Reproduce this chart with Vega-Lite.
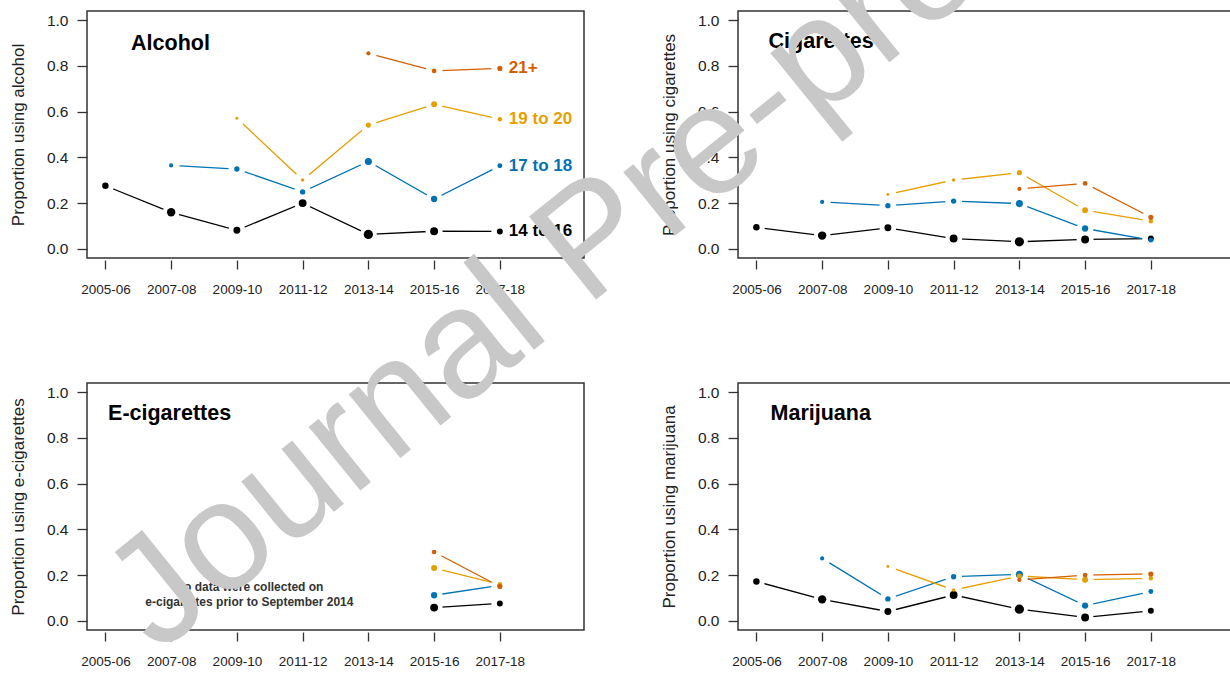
{
  "$schema": "https://vega.github.io/schema/vega-lite/v6.json",
  "autosize": {"type": "none"},
  "padding": {"left": 87, "top": 11, "right": 1143, "bottom": 664},
  "background": "white",
  "datasets": {
    "use": [
      {"s": "Alcohol", "g": "14 to 16", "year": 2005, "v": 0.276, "n": 190},
      {"s": "Alcohol", "g": "14 to 16", "year": 2007, "v": 0.160, "n": 320},
      {"s": "Alcohol", "g": "14 to 16", "year": 2009, "v": 0.081, "n": 220},
      {"s": "Alcohol", "g": "14 to 16", "year": 2011, "v": 0.200, "n": 285},
      {"s": "Alcohol", "g": "14 to 16", "year": 2013, "v": 0.063, "n": 390},
      {"s": "Alcohol", "g": "14 to 16", "year": 2015, "v": 0.077, "n": 285},
      {"s": "Alcohol", "g": "14 to 16", "year": 2017, "v": 0.076, "n": 160},
      {"s": "Alcohol", "g": "17 to 18", "year": 2007, "v": 0.365, "n": 80},
      {"s": "Alcohol", "g": "17 to 18", "year": 2009, "v": 0.349, "n": 130},
      {"s": "Alcohol", "g": "17 to 18", "year": 2011, "v": 0.249, "n": 130},
      {"s": "Alcohol", "g": "17 to 18", "year": 2013, "v": 0.382, "n": 230},
      {"s": "Alcohol", "g": "17 to 18", "year": 2015, "v": 0.218, "n": 180},
      {"s": "Alcohol", "g": "17 to 18", "year": 2017, "v": 0.363, "n": 110},
      {"s": "Alcohol", "g": "19 to 20", "year": 2009, "v": 0.571, "n": 40},
      {"s": "Alcohol", "g": "19 to 20", "year": 2011, "v": 0.301, "n": 55},
      {"s": "Alcohol", "g": "19 to 20", "year": 2013, "v": 0.541, "n": 120},
      {"s": "Alcohol", "g": "19 to 20", "year": 2015, "v": 0.632, "n": 165},
      {"s": "Alcohol", "g": "19 to 20", "year": 2017, "v": 0.567, "n": 90},
      {"s": "Alcohol", "g": "21+", "year": 2013, "v": 0.855, "n": 80},
      {"s": "Alcohol", "g": "21+", "year": 2015, "v": 0.778, "n": 100},
      {"s": "Alcohol", "g": "21+", "year": 2017, "v": 0.789, "n": 120},

      {"s": "Cigarettes", "g": "14 to 16", "year": 2005, "v": 0.094, "n": 190},
      {"s": "Cigarettes", "g": "14 to 16", "year": 2007, "v": 0.058, "n": 320},
      {"s": "Cigarettes", "g": "14 to 16", "year": 2009, "v": 0.092, "n": 220},
      {"s": "Cigarettes", "g": "14 to 16", "year": 2011, "v": 0.045, "n": 285},
      {"s": "Cigarettes", "g": "14 to 16", "year": 2013, "v": 0.031, "n": 390},
      {"s": "Cigarettes", "g": "14 to 16", "year": 2015, "v": 0.041, "n": 285},
      {"s": "Cigarettes", "g": "14 to 16", "year": 2017, "v": 0.045, "n": 160},
      {"s": "Cigarettes", "g": "17 to 18", "year": 2007, "v": 0.205, "n": 80},
      {"s": "Cigarettes", "g": "17 to 18", "year": 2009, "v": 0.189, "n": 130},
      {"s": "Cigarettes", "g": "17 to 18", "year": 2011, "v": 0.209, "n": 130},
      {"s": "Cigarettes", "g": "17 to 18", "year": 2013, "v": 0.198, "n": 230},
      {"s": "Cigarettes", "g": "17 to 18", "year": 2015, "v": 0.089, "n": 180},
      {"s": "Cigarettes", "g": "17 to 18", "year": 2017, "v": 0.038, "n": 110},
      {"s": "Cigarettes", "g": "19 to 20", "year": 2009, "v": 0.238, "n": 40},
      {"s": "Cigarettes", "g": "19 to 20", "year": 2011, "v": 0.301, "n": 55},
      {"s": "Cigarettes", "g": "19 to 20", "year": 2013, "v": 0.333, "n": 120},
      {"s": "Cigarettes", "g": "19 to 20", "year": 2015, "v": 0.169, "n": 165},
      {"s": "Cigarettes", "g": "19 to 20", "year": 2017, "v": 0.121, "n": 90},
      {"s": "Cigarettes", "g": "21+", "year": 2013, "v": 0.262, "n": 80},
      {"s": "Cigarettes", "g": "21+", "year": 2015, "v": 0.286, "n": 100},
      {"s": "Cigarettes", "g": "21+", "year": 2017, "v": 0.138, "n": 120},

      {"s": "E-cigarettes", "g": "14 to 16", "year": 2015, "v": 0.058, "n": 285},
      {"s": "E-cigarettes", "g": "14 to 16", "year": 2017, "v": 0.076, "n": 160},
      {"s": "E-cigarettes", "g": "17 to 18", "year": 2015, "v": 0.112, "n": 180},
      {"s": "E-cigarettes", "g": "17 to 18", "year": 2017, "v": 0.155, "n": 110},
      {"s": "E-cigarettes", "g": "19 to 20", "year": 2015, "v": 0.231, "n": 165},
      {"s": "E-cigarettes", "g": "19 to 20", "year": 2017, "v": 0.160, "n": 90},
      {"s": "E-cigarettes", "g": "21+", "year": 2015, "v": 0.301, "n": 100},
      {"s": "E-cigarettes", "g": "21+", "year": 2017, "v": 0.150, "n": 120},

      {"s": "Marijuana", "g": "14 to 16", "year": 2005, "v": 0.172, "n": 190},
      {"s": "Marijuana", "g": "14 to 16", "year": 2007, "v": 0.094, "n": 320},
      {"s": "Marijuana", "g": "14 to 16", "year": 2009, "v": 0.041, "n": 220},
      {"s": "Marijuana", "g": "14 to 16", "year": 2011, "v": 0.113, "n": 285},
      {"s": "Marijuana", "g": "14 to 16", "year": 2013, "v": 0.051, "n": 390},
      {"s": "Marijuana", "g": "14 to 16", "year": 2015, "v": 0.015, "n": 285},
      {"s": "Marijuana", "g": "14 to 16", "year": 2017, "v": 0.044, "n": 160},
      {"s": "Marijuana", "g": "17 to 18", "year": 2007, "v": 0.273, "n": 80},
      {"s": "Marijuana", "g": "17 to 18", "year": 2009, "v": 0.096, "n": 130},
      {"s": "Marijuana", "g": "17 to 18", "year": 2011, "v": 0.193, "n": 130},
      {"s": "Marijuana", "g": "17 to 18", "year": 2013, "v": 0.203, "n": 230},
      {"s": "Marijuana", "g": "17 to 18", "year": 2015, "v": 0.067, "n": 180},
      {"s": "Marijuana", "g": "17 to 18", "year": 2017, "v": 0.128, "n": 110},
      {"s": "Marijuana", "g": "19 to 20", "year": 2009, "v": 0.238, "n": 40},
      {"s": "Marijuana", "g": "19 to 20", "year": 2011, "v": 0.135, "n": 55},
      {"s": "Marijuana", "g": "19 to 20", "year": 2013, "v": 0.196, "n": 120},
      {"s": "Marijuana", "g": "19 to 20", "year": 2015, "v": 0.180, "n": 165},
      {"s": "Marijuana", "g": "19 to 20", "year": 2017, "v": 0.186, "n": 90},
      {"s": "Marijuana", "g": "21+", "year": 2013, "v": 0.179, "n": 80},
      {"s": "Marijuana", "g": "21+", "year": 2015, "v": 0.200, "n": 100},
      {"s": "Marijuana", "g": "21+", "year": 2017, "v": 0.205, "n": 120}
    ]
  },
  "columns": 2,
  "spacing": {"row": 125, "column": 154},
  "bounds": "flush",
  "concat": [
    {
      "width": 497, "height": 247,
      "layer": [
        {
          "data": {"name": "use"},
          "transform": [{"filter": "datum.s === 'Alcohol'"}],
          "mark": {"type": "line", "strokeWidth": 1.3},
          "encoding": {
            "x": {"field": "year", "type": "quantitative", "scale": {"domain": [2004.44, 2019.56], "nice": false, "zero": false}, "axis": {"values": [2005, 2007, 2009, 2011, 2013, 2015, 2017], "labelExpr": "datum.value + '-' + substring(toString(datum.value + 1), 2, 4)"}, "title": null},
            "y": {"field": "v", "type": "quantitative", "scale": {"domain": [-0.04, 1.04], "nice": false, "zero": false}, "axis": {"values": [0, 0.2, 0.4, 0.6, 0.8, 1], "format": ".1f"}, "title": "Proportion using alcohol"},
            "color": {"field": "g", "type": "nominal", "scale": {"domain": ["14 to 16", "17 to 18", "19 to 20", "21+"], "range": ["#000000", "#0072B2", "#E69F00", "#D55E00"]}, "legend": null}
          }
        },
        {
          "data": {"name": "use"},
          "transform": [{"filter": "datum.s === 'Alcohol'"}],
          "mark": {"type": "circle", "size": 285, "color": "white", "opacity": 1},
          "encoding": {
            "x": {"field": "year", "type": "quantitative", "title": null},
            "y": {"field": "v", "type": "quantitative", "title": "Proportion using alcohol"}
          }
        },
        {
          "data": {"name": "use"},
          "transform": [{"filter": "datum.s === 'Alcohol'"}],
          "mark": {"type": "circle", "opacity": 1},
          "encoding": {
            "x": {"field": "year", "type": "quantitative", "title": null},
            "y": {"field": "v", "type": "quantitative", "title": "Proportion using alcohol"},
            "color": {"field": "g", "type": "nominal", "legend": null},
            "size": {"field": "n", "type": "quantitative", "scale": {"domain": [0, 400], "range": [0, 88]}, "legend": null}
          }
        },
        {
          "data": {"name": "use"},
          "transform": [{"filter": "datum.s === 'Alcohol' && datum.year === 2017"}],
          "mark": {"type": "text", "align": "left", "baseline": "middle", "dx": 9, "fontSize": 17, "fontWeight": "bold"},
          "encoding": {
            "x": {"field": "year", "type": "quantitative", "title": null},
            "y": {"field": "v", "type": "quantitative", "title": "Proportion using alcohol"},
            "color": {"field": "g", "type": "nominal", "legend": null},
            "text": {"field": "g"}
          }
        },
        {
          "data": {"values": [{"label": "Alcohol"}]},
          "mark": {"type": "text", "align": "left", "baseline": "alphabetic", "fontSize": 21.5, "fontWeight": "bold", "color": "#000000"},
          "encoding": {
            "x": {"datum": 2005.78, "type": "quantitative"},
            "y": {"datum": 0.87, "type": "quantitative"},
            "text": {"field": "label"}
          }
        }
      ]
    },
    {
      "width": 497, "height": 247,
      "layer": [
        {
          "data": {"name": "use"},
          "transform": [{"filter": "datum.s === 'Cigarettes'"}],
          "mark": {"type": "line", "strokeWidth": 1.3},
          "encoding": {
            "x": {"field": "year", "type": "quantitative", "scale": {"domain": [2004.44, 2019.56], "nice": false, "zero": false}, "axis": {"values": [2005, 2007, 2009, 2011, 2013, 2015, 2017], "labelExpr": "datum.value + '-' + substring(toString(datum.value + 1), 2, 4)"}, "title": null},
            "y": {"field": "v", "type": "quantitative", "scale": {"domain": [-0.04, 1.04], "nice": false, "zero": false}, "axis": {"values": [0, 0.2, 0.4, 0.6, 0.8, 1], "format": ".1f"}, "title": "Proportion using cigarettes"},
            "color": {"field": "g", "type": "nominal", "scale": {"domain": ["14 to 16", "17 to 18", "19 to 20", "21+"], "range": ["#000000", "#0072B2", "#E69F00", "#D55E00"]}, "legend": null}
          }
        },
        {
          "data": {"name": "use"},
          "transform": [{"filter": "datum.s === 'Cigarettes'"}],
          "mark": {"type": "circle", "size": 285, "color": "white", "opacity": 1},
          "encoding": {
            "x": {"field": "year", "type": "quantitative", "title": null},
            "y": {"field": "v", "type": "quantitative", "title": "Proportion using cigarettes"}
          }
        },
        {
          "data": {"name": "use"},
          "transform": [{"filter": "datum.s === 'Cigarettes'"}],
          "mark": {"type": "circle", "opacity": 1},
          "encoding": {
            "x": {"field": "year", "type": "quantitative", "title": null},
            "y": {"field": "v", "type": "quantitative", "title": "Proportion using cigarettes"},
            "color": {"field": "g", "type": "nominal", "legend": null},
            "size": {"field": "n", "type": "quantitative", "scale": {"domain": [0, 400], "range": [0, 88]}, "legend": null}
          }
        },
        {
          "data": {"values": [{"label": "Cigarettes"}]},
          "mark": {"type": "text", "align": "left", "baseline": "alphabetic", "fontSize": 21.5, "fontWeight": "bold", "color": "#000000"},
          "encoding": {
            "x": {"datum": 2005.37, "type": "quantitative"},
            "y": {"datum": 0.878, "type": "quantitative"},
            "text": {"field": "label"}
          }
        }
      ]
    },
    {
      "width": 497, "height": 247,
      "layer": [
        {
          "data": {"name": "use"},
          "transform": [{"filter": "datum.s === 'E-cigarettes'"}],
          "mark": {"type": "line", "strokeWidth": 1.3},
          "encoding": {
            "x": {"field": "year", "type": "quantitative", "scale": {"domain": [2004.44, 2019.56], "nice": false, "zero": false}, "axis": {"values": [2005, 2007, 2009, 2011, 2013, 2015, 2017], "labelExpr": "datum.value + '-' + substring(toString(datum.value + 1), 2, 4)"}, "title": null},
            "y": {"field": "v", "type": "quantitative", "scale": {"domain": [-0.04, 1.04], "nice": false, "zero": false}, "axis": {"values": [0, 0.2, 0.4, 0.6, 0.8, 1], "format": ".1f"}, "title": "Proportion using e-cigarettes"},
            "color": {"field": "g", "type": "nominal", "scale": {"domain": ["14 to 16", "17 to 18", "19 to 20", "21+"], "range": ["#000000", "#0072B2", "#E69F00", "#D55E00"]}, "legend": null}
          }
        },
        {
          "data": {"name": "use"},
          "transform": [{"filter": "datum.s === 'E-cigarettes'"}],
          "mark": {"type": "circle", "size": 285, "color": "white", "opacity": 1},
          "encoding": {
            "x": {"field": "year", "type": "quantitative", "title": null},
            "y": {"field": "v", "type": "quantitative", "title": "Proportion using e-cigarettes"}
          }
        },
        {
          "data": {"name": "use"},
          "transform": [{"filter": "datum.s === 'E-cigarettes'"}],
          "mark": {"type": "circle", "opacity": 1},
          "encoding": {
            "x": {"field": "year", "type": "quantitative", "title": null},
            "y": {"field": "v", "type": "quantitative", "title": "Proportion using e-cigarettes"},
            "color": {"field": "g", "type": "nominal", "legend": null},
            "size": {"field": "n", "type": "quantitative", "scale": {"domain": [0, 400], "range": [0, 88]}, "legend": null}
          }
        },
        {
          "data": {"values": [{"label": "E-cigarettes"}]},
          "mark": {"type": "text", "align": "left", "baseline": "alphabetic", "fontSize": 21.5, "fontWeight": "bold", "color": "#000000"},
          "encoding": {
            "x": {"datum": 2005.08, "type": "quantitative"},
            "y": {"datum": 0.878, "type": "quantitative"},
            "text": {"field": "label"}
          }
        },
        {
          "data": {"values": [{"note": ["No data were collected on", "e-cigarettes prior to September 2014"]}]},
          "mark": {"type": "text", "align": "center", "baseline": "middle", "fontSize": 12, "fontWeight": "bold", "lineHeight": 14.5, "color": "#333333"},
          "encoding": {
            "x": {"datum": 2009.38, "type": "quantitative"},
            "y": {"datum": 0.147, "type": "quantitative"},
            "text": {"field": "note"}
          }
        },
        {
          "data": {"values": [{"wm": "Journal Pre-proof"}]},
          "mark": {"type": "text", "align": "center", "baseline": "middle", "fontSize": 155, "angle": -39, "color": "#c8c8c8"},
          "encoding": {
            "x": {"datum": 2019.85, "type": "quantitative"},
            "y": {"datum": 1.66, "type": "quantitative"},
            "text": {"field": "wm"}
          }
        }
      ]
    },
    {
      "width": 497, "height": 247,
      "layer": [
        {
          "data": {"name": "use"},
          "transform": [{"filter": "datum.s === 'Marijuana'"}],
          "mark": {"type": "line", "strokeWidth": 1.3},
          "encoding": {
            "x": {"field": "year", "type": "quantitative", "scale": {"domain": [2004.44, 2019.56], "nice": false, "zero": false}, "axis": {"values": [2005, 2007, 2009, 2011, 2013, 2015, 2017], "labelExpr": "datum.value + '-' + substring(toString(datum.value + 1), 2, 4)"}, "title": null},
            "y": {"field": "v", "type": "quantitative", "scale": {"domain": [-0.04, 1.04], "nice": false, "zero": false}, "axis": {"values": [0, 0.2, 0.4, 0.6, 0.8, 1], "format": ".1f"}, "title": "Proportion using marijuana"},
            "color": {"field": "g", "type": "nominal", "scale": {"domain": ["14 to 16", "17 to 18", "19 to 20", "21+"], "range": ["#000000", "#0072B2", "#E69F00", "#D55E00"]}, "legend": null}
          }
        },
        {
          "data": {"name": "use"},
          "transform": [{"filter": "datum.s === 'Marijuana'"}],
          "mark": {"type": "circle", "size": 285, "color": "white", "opacity": 1},
          "encoding": {
            "x": {"field": "year", "type": "quantitative", "title": null},
            "y": {"field": "v", "type": "quantitative", "title": "Proportion using marijuana"}
          }
        },
        {
          "data": {"name": "use"},
          "transform": [{"filter": "datum.s === 'Marijuana'"}],
          "mark": {"type": "circle", "opacity": 1},
          "encoding": {
            "x": {"field": "year", "type": "quantitative", "title": null},
            "y": {"field": "v", "type": "quantitative", "title": "Proportion using marijuana"},
            "color": {"field": "g", "type": "nominal", "legend": null},
            "size": {"field": "n", "type": "quantitative", "scale": {"domain": [0, 400], "range": [0, 88]}, "legend": null}
          }
        },
        {
          "data": {"values": [{"label": "Marijuana"}]},
          "mark": {"type": "text", "align": "left", "baseline": "alphabetic", "fontSize": 21.5, "fontWeight": "bold", "color": "#000000"},
          "encoding": {
            "x": {"datum": 2005.43, "type": "quantitative"},
            "y": {"datum": 0.878, "type": "quantitative"},
            "text": {"field": "label"}
          }
        }
      ]
    }
  ],
  "config": {
    "font": "Liberation Sans",
    "view": {"stroke": "#333333", "strokeWidth": 1.5},
    "axis": {"grid": false, "domain": false, "tickColor": "#333333", "tickWidth": 1.3, "labelColor": "#222222", "titleColor": "#222222", "labelFont": "Liberation Sans", "titleFont": "Liberation Sans", "titleFontWeight": "normal"},
    "axisX": {"tickSize": 9, "offset": 2, "labelFontSize": 13.5, "labelPadding": 13},
    "axisY": {"tickSize": 10, "labelFontSize": 15.5, "labelPadding": 9, "titleFontSize": 17, "titlePadding": 19}
  }
}
